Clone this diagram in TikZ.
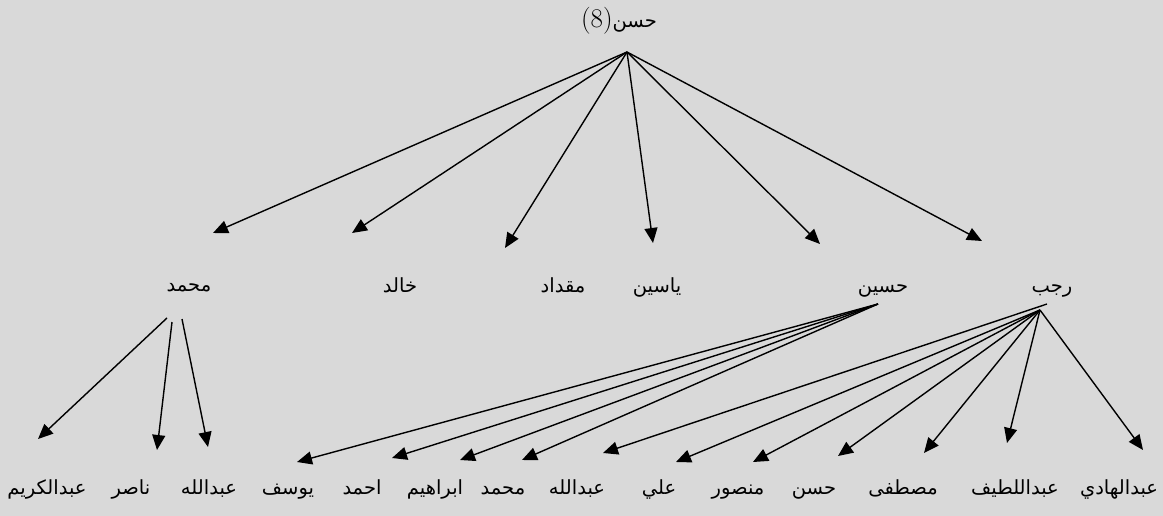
\documentclass[tikz,border=0pt]{standalone}
\usepackage{fontspec}
\usetikzlibrary{arrows.meta}
\TeXXeTstate=1
\newfontfamily\arabicfont[Script=Arabic]{DejaVu Sans}
\newcommand{\ar}[1]{{\arabicfont\beginR #1\endR}}
\definecolor{paper}{RGB}{217,217,217}
\begin{document}
\begin{tikzpicture}[x=1pt,y=-1pt]
      % Define styles for nodes
      \tikzstyle{person} = [anchor=base,inner sep=0pt,font=\fontsize{19.5}{23}\selectfont]
      \tikzstyle{descent} = [line width=1.4pt,-{Triangle[length=15pt,width=13pt]}]

      % Grey paper
      \fill[paper] (0,0) rectangle (1163,516);
      \useasboundingbox (0,0) rectangle (1163,516);

      % Root
      \node[person] (hasan8) at (619,28) {{\fontsize{27}{32}\selectfont(8)}\ar{حسن}};
      \coordinate (hasan8-out) at (627,52);

      % Sons
      \node[person] (muhammad) at (189,291) {\ar{محمد}};
      \node[person] (khalid) at (400,292) {\ar{خالد}};
      \node[person] (miqdad) at (563,292) {\ar{مقداد}};
      \node[person] (yasin) at (657,292) {\ar{ياسين}};
      \node[person] (husayn) at (883,292) {\ar{حسين}};
      \node[person] (rajab) at (1052,292) {\ar{رجب}};

      % Grandsons
      \node[person] (abdulkarim) at (47,494) {\ar{عبدالكريم}};
      \node[person] (nasir) at (131,494) {\ar{ناصر}};
      \node[person] (abdullah-a) at (209,494) {\ar{عبدالله}};
      \node[person] (yusuf) at (288,494) {\ar{يوسف}};
      \node[person] (ahmad) at (362,494) {\ar{احمد}};
      \node[person] (ibrahim) at (435,494) {\ar{ابراهيم}};
      \node[person] (muhammad-b) at (503,494) {\ar{محمد}};
      \node[person] (abdullah-b) at (577,494) {\ar{عبدالله}};
      \node[person] (ali) at (659,494) {\ar{علي}};
      \node[person] (mansur) at (738,494) {\ar{منصور}};
      \node[person] (hasan) at (814,494) {\ar{حسن}};
      \node[person] (mustafa) at (903,494) {\ar{مصطفى}};
      \node[person] (abdullatif) at (1015,494) {\ar{عبداللطيف}};
      \node[person] (abdulhadi) at (1119,494) {\ar{عبدالهادي}};

      % Arrow ends
      \coordinate (muhammad-in) at (213,233);
      \coordinate (khalid-in) at (352,233);
      \coordinate (miqdad-in) at (505,248);
      \coordinate (yasin-in) at (653,243);
      \coordinate (husayn-in) at (820,244);
      \coordinate (rajab-in) at (982,241);
      \coordinate (muhammad-out1) at (167,318);
      \coordinate (muhammad-out2) at (172,322);
      \coordinate (muhammad-out3) at (182,319);
      \coordinate (husayn-out) at (878,304);
      \coordinate (rajab-out) at (1040,310);
      \coordinate (rajab-out2) at (1047,304);
      \coordinate (abdulkarim-in) at (38,439);
      \coordinate (nasir-in) at (157,450);
      \coordinate (abdullah-a-in) at (208,447);
      \coordinate (yusuf-in) at (297,462);
      \coordinate (ahmad-in) at (392,458);
      \coordinate (ibrahim-in) at (460,460);
      \coordinate (muhammad-b-in) at (522,460);
      \coordinate (abdullah-b-in) at (603,453);
      \coordinate (ali-in) at (676,462);
      \coordinate (mansur-in) at (753,462);
      \coordinate (hasan-in) at (838,456);
      \coordinate (mustafa-in) at (924,453);
      \coordinate (abdullatif-in) at (1007,443);
      \coordinate (abdulhadi-in) at (1143,450);

      % Connections
      \foreach \son in {muhammad,khalid,miqdad,yasin,husayn,rajab}
        \draw[descent] (hasan8-out) -- (\son-in);

      \draw[descent] (muhammad-out1) -- (abdulkarim-in);
      \draw[descent] (muhammad-out2) -- (nasir-in);
      \draw[descent] (muhammad-out3) -- (abdullah-a-in);

      \foreach \son in {yusuf,ahmad,ibrahim,muhammad-b}
        \draw[descent] (husayn-out) -- (\son-in);

      \draw[descent] (rajab-out2) -- (abdullah-b-in);
      \foreach \son in {ali,mansur,hasan,mustafa,abdullatif,abdulhadi}
        \draw[descent] (rajab-out) -- (\son-in);
    \end{tikzpicture}
\end{document}
